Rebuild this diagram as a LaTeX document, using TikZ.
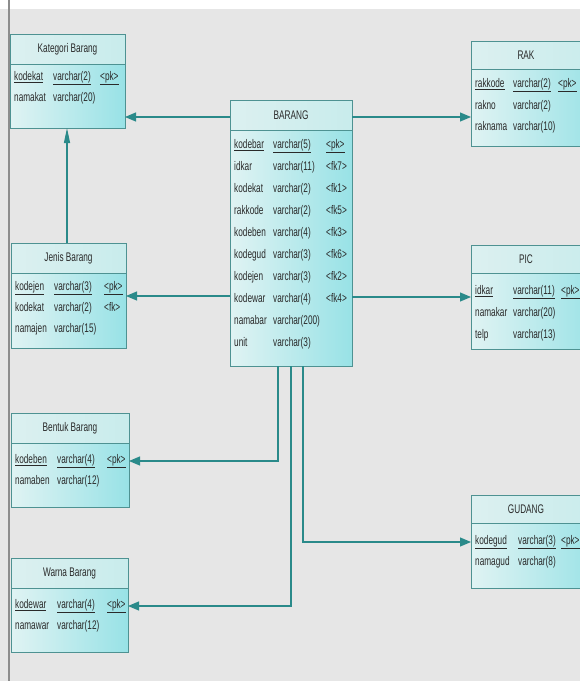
\documentclass[tikz,border=0pt]{standalone}
\usepackage{fontspec}
\setmainfont{Liberation Sans}[FakeStretch=0.66]
\usetikzlibrary{arrows.meta}
\definecolor{bg}{HTML}{E6E6E6}
\definecolor{edge}{HTML}{4E9292}
\definecolor{conn}{HTML}{2A8A8A}
\definecolor{hdrL}{HTML}{DCF0F0}
\definecolor{hdrR}{HTML}{C8ECEC}
\definecolor{bodyL}{HTML}{E0F3F3}
\definecolor{bodyR}{HTML}{98E2E6}
\definecolor{txt}{HTML}{2A2A2A}
\definecolor{frame}{HTML}{8C8C8C}
\newcounter{rowc}
\newcommand\erow[7]{%
  \stepcounter{rowc}%
  \node[cell] (c\arabic{rowc}a) at (#2,#1) {#3};
  \node[cell] (c\arabic{rowc}b) at (#4,#1) {#5};
  \node[cell] (c\arabic{rowc}c) at (#6,#1) {#7};
}
\tikzset{
  entity/.style={draw=edge, line width=1pt, left color=bodyL, right color=bodyR,
    anchor=north west, inner sep=0pt, outer sep=0pt},
  header/.style={draw=edge, line width=1pt, left color=hdrL, right color=hdrR, anchor=north west,
    inner sep=0pt, outer sep=0pt, text=txt, font=\fontsize{12.5}{14}\selectfont},
  cell/.style={anchor=west, inner sep=0pt, text=txt, text height=9pt, text depth=2.5pt,
    font=\fontsize{12.5}{14}\selectfont},
  link/.style={draw=conn, line width=1.1pt, -{Triangle[length=11pt,width=9pt]}},
  uplink/.style={draw=conn, line width=1.1pt, -{Triangle[length=15pt,width=6pt]}},
}
\begin{document}
\begin{tikzpicture}[x=1pt,y=-1pt]
\useasboundingbox (0,0) rectangle (580,681);
\clip (0,0) rectangle (580,681);
\fill[bg] (0,0) rectangle (580,681);
\fill[white] (0,0) rectangle (580,9);
\draw[frame, line width=1.5pt] (9,0) -- (9,681);

% Kategori Barang
\node[entity, minimum width=115pt, minimum height=94pt] (kat) at (10,34) {};
\node[header, minimum width=115pt, minimum height=30pt] (katH) at (10,34) {Kategori Barang};
\erow{77}{14}{\underline{kodekat}}{53}{\underline{varchar(2)}}{100}{\underline{<pk>}}
\erow{98}{14}{namakat}{53}{varchar(20)}{100}{}

% BARANG
\node[entity, minimum width=122pt, minimum height=266pt] (bar) at (230,100) {};
\node[header, minimum width=122pt, minimum height=30pt] (barH) at (230,100) {BARANG};
\erow{145}{234}{\underline{kodebar}}{273}{\underline{varchar(5)}}{326}{\underline{<pk>}}
\erow{167}{234}{idkar}{273}{varchar(11)}{326}{<fk7>}
\erow{189}{234}{kodekat}{273}{varchar(2)}{326}{<fk1>}
\erow{211}{234}{rakkode}{273}{varchar(2)}{326}{<fk5>}
\erow{233}{234}{kodeben}{273}{varchar(4)}{326}{<fk3>}
\erow{255}{234}{kodegud}{273}{varchar(3)}{326}{<fk6>}
\erow{277}{234}{kodejen}{273}{varchar(3)}{326}{<fk2>}
\erow{299}{234}{kodewar}{273}{varchar(4)}{326}{<fk4>}
\erow{321}{234}{namabar}{273}{varchar(200)}{326}{}
\erow{343}{234}{unit}{273}{varchar(3)}{326}{}

% RAK
\node[entity, minimum width=130pt, minimum height=105pt] (rak) at (471,41) {};
\node[header, minimum width=130pt, minimum height=28pt] (rakH) at (471,41) {\hspace*{-20pt}RAK};
\erow{84}{475}{\underline{rakkode}}{513}{\underline{varchar(2)}}{558}{\underline{<pk>}}
\erow{106}{475}{rakno}{513}{varchar(2)}{558}{}
\erow{127}{475}{raknama}{513}{varchar(10)}{558}{}

% Jenis Barang
\node[entity, minimum width=115pt, minimum height=105pt] (jen) at (11,243) {};
\node[header, minimum width=115pt, minimum height=30pt] (jenH) at (11,243) {Jenis Barang};
\erow{287}{15}{\underline{kodejen}}{54}{\underline{varchar(3)}}{104}{\underline{<pk>}}
\erow{308}{15}{kodekat}{54}{varchar(2)}{104}{<fk>}
\erow{329}{15}{namajen}{54}{varchar(15)}{104}{}

% PIC
\node[entity, minimum width=130pt, minimum height=104pt] (pic) at (471,245) {};
\node[header, minimum width=130pt, minimum height=28pt] (picH) at (471,245) {\hspace*{-20pt}PIC};
\erow{291}{475}{\underline{idkar}}{513}{\underline{varchar(11)}}{561}{\underline{<pk>}}
\erow{313}{475}{namakar}{513}{varchar(20)}{561}{}
\erow{335}{475}{telp}{513}{varchar(13)}{561}{}

% Bentuk Barang
\node[entity, minimum width=118pt, minimum height=94pt] (ben) at (11,413) {};
\node[header, minimum width=118pt, minimum height=30pt] (benH) at (11,413) {Bentuk Barang};
\erow{460}{15}{\underline{kodeben}}{57}{\underline{varchar(4)}}{107}{\underline{<pk>}}
\erow{481}{15}{namaben}{57}{varchar(12)}{107}{}

% Warna Barang
\node[entity, minimum width=117pt, minimum height=94pt] (war) at (11,558) {};
\node[header, minimum width=117pt, minimum height=30pt] (warH) at (11,558) {Warna Barang};
\erow{605}{15}{\underline{kodewar}}{57}{\underline{varchar(4)}}{107}{\underline{<pk>}}
\erow{626}{15}{namawar}{57}{varchar(12)}{107}{}

% GUDANG
\node[entity, minimum width=130pt, minimum height=93pt] (gud) at (471,495) {};
\node[header, minimum width=130pt, minimum height=28pt] (gudH) at (471,495) {\hspace*{-20pt}GUDANG};
\erow{541}{475}{\underline{kodegud}}{518}{\underline{varchar(3)}}{561}{\underline{<pk>}}
\erow{562}{475}{namagud}{518}{varchar(8)}{561}{}

% connectors
\draw[link] (bar.west |- 0,117) -- (kat.east |- 0,117);
\draw[link] (bar.east |- 0,117) -- (rak.west |- 0,117);
\draw[uplink] (jen.north -| 67,0) -- (kat.south -| 67,0);
\draw[link] (bar.west |- 0,296) -- (jen.east |- 0,296);
\draw[link] (bar.east |- 0,297) -- (pic.west |- 0,297);
\draw[link] (bar.south -| 278,0) |- (ben.east |- 0,461);
\draw[link] (bar.south -| 291,0) |- (war.east |- 0,606);
\draw[link] (bar.south -| 303,0) |- (gud.west |- 0,542);
\end{tikzpicture}
\end{document}
